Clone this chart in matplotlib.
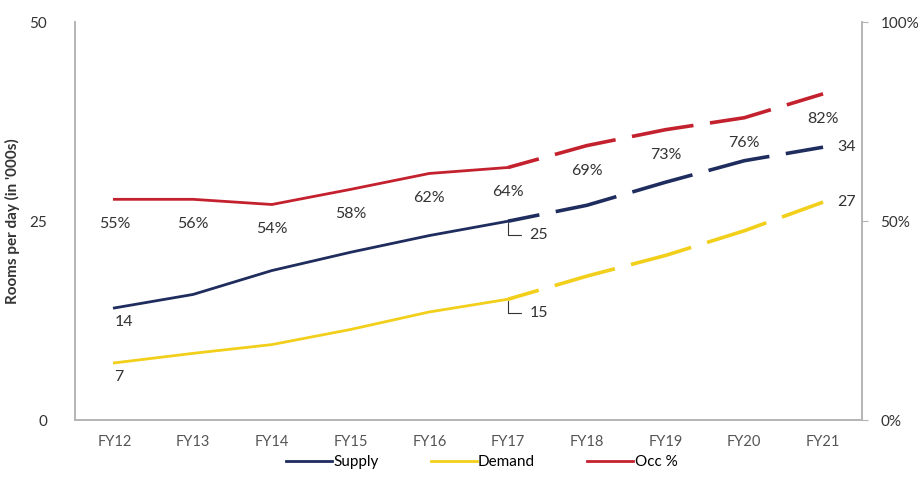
import matplotlib
matplotlib.use("Agg")
import matplotlib.pyplot as plt
from matplotlib.ticker import FuncFormatter

# Dados
years = ["FY12", "FY13", "FY14", "FY15", "FY16", "FY17", "FY18", "FY19", "FY20", "FY21"]
supply = [14.1, 15.8, 18.8, 21.1, 23.2, 25.0, 27.0, 29.9, 32.6, 34.3]
demand = [7.2, 8.4, 9.5, 11.4, 13.6, 15.2, 18.1, 20.7, 23.8, 27.4]
occ = [55.5, 55.5, 54.2, 58, 62, 63.5, 69, 73, 76, 82]
occ_labels = ["55%", "56%", "54%", "58%", "62%", "64%", "69%", "73%", "76%", "82%"]
split = 5  # FY17: a partir daqui as linhas ficam tracejadas

C_SUPPLY = "#1f2d5e"
C_DEMAND = "#f2cf1a"
C_OCC = "#c4212e"
C_AXIS = "#b4b4b4"
C_TEXT = "#333333"

plt.rcParams["font.family"] = ["Lato", "DejaVu Sans"]
plt.rcParams["font.size"] = 10
plt.rcParams["lines.scale_dashes"] = False

fig = plt.figure(figsize=(9.21, 4.83), dpi=100)
ax = fig.add_axes([0.0814, 0.130, 0.855, 0.824])
ax2 = ax.twinx()

x = list(range(len(years)))
dash_off = (22, (45, 12))

# Curvas: parte sólida (histórico) e tracejada (projeção)
ax.plot(x[:split + 1], supply[:split + 1], color=C_SUPPLY, lw=2, label="Supply")
ax.plot(x[split:], supply[split:], color=C_SUPPLY, lw=2.6, linestyle=dash_off)
ax.plot(x[:split + 1], demand[:split + 1], color=C_DEMAND, lw=2, label="Demand")
ax.plot(x[split:], demand[split:], color=C_DEMAND, lw=2.6, linestyle=dash_off)
ax2.plot(x[:split + 1], occ[:split + 1], color=C_OCC, lw=2, label="Occ %")
ax2.plot(x[split:], occ[split:], color=C_OCC, lw=2.6, linestyle=dash_off)

ax.set_xlim(-0.5, len(years) - 0.5)
ax.set_ylim(0, 50)
ax2.set_ylim(0, 100)
ax.set_xticks(x)
ax.set_xticklabels(years, color="#555555", fontsize=10.5)
ax.set_yticks([0, 25, 50])
ax2.set_yticks([0, 50, 100])
ax2.yaxis.set_major_formatter(FuncFormatter(lambda v, p: f"{v:.0f}%"))

ax.tick_params(axis="x", length=0, pad=11)
ax.tick_params(axis="y", length=0, pad=20, labelsize=11, labelcolor=C_TEXT)
ax2.tick_params(axis="y", length=4, color=C_AXIS, pad=9, labelsize=11, labelcolor=C_TEXT)

for a in (ax, ax2):
    a.spines["top"].set_visible(False)
    for s in ("left", "right", "bottom"):
        a.spines[s].set_color(C_AXIS)
        a.spines[s].set_linewidth(1.2)

ax.set_ylabel("Rooms per day (in '000s)", fontweight="bold", fontsize=11,
              color=C_TEXT, labelpad=7)

# Rótulos da ocupação (abaixo da linha)
for xi, v, lab in zip(x, occ, occ_labels):
    ax2.annotate(lab, (xi, v), xytext=(0, -18), textcoords="offset points",
                 ha="center", va="center", fontsize=11.5, color=C_TEXT)

# Rótulos de oferta e demanda
ax.annotate("14", (x[0], supply[0]), xytext=(7, -10), textcoords="offset points",
            ha="center", va="center", fontsize=11.5, color=C_TEXT)
ax.annotate("7", (x[0], demand[0]), xytext=(3, -10), textcoords="offset points",
            ha="center", va="center", fontsize=11.5, color=C_TEXT)
ax.annotate("34", (x[-1], supply[-1]), xytext=(17, 0), textcoords="offset points",
            ha="center", va="center", fontsize=11.5, color=C_TEXT)
ax.annotate("27", (x[-1], demand[-1]), xytext=(17, 0), textcoords="offset points",
            ha="center", va="center", fontsize=11.5, color=C_TEXT)
for vals, lab in ((supply, "25"), (demand, "15")):
    ax.annotate(lab, (x[split], vals[split]), xytext=(22, -10), textcoords="offset points",
                ha="center", va="center", fontsize=11.5, color=C_TEXT,
                arrowprops=dict(arrowstyle="-", color=C_TEXT, lw=0.8,
                                connectionstyle="angle,angleA=0,angleB=90,rad=0",
                                shrinkA=4, shrinkB=1))

# Legenda
h1, l1 = ax.get_legend_handles_labels()
h2, l2 = ax2.get_legend_handles_labels()
fig.legend(h1 + h2, l1 + l2, loc="lower center", bbox_to_anchor=(0.523, 0.0),
           ncol=3, frameon=False, fontsize=11, handlelength=3.0,
           handletextpad=0.1, columnspacing=3.4)

fig.savefig("out.png", dpi=100)
